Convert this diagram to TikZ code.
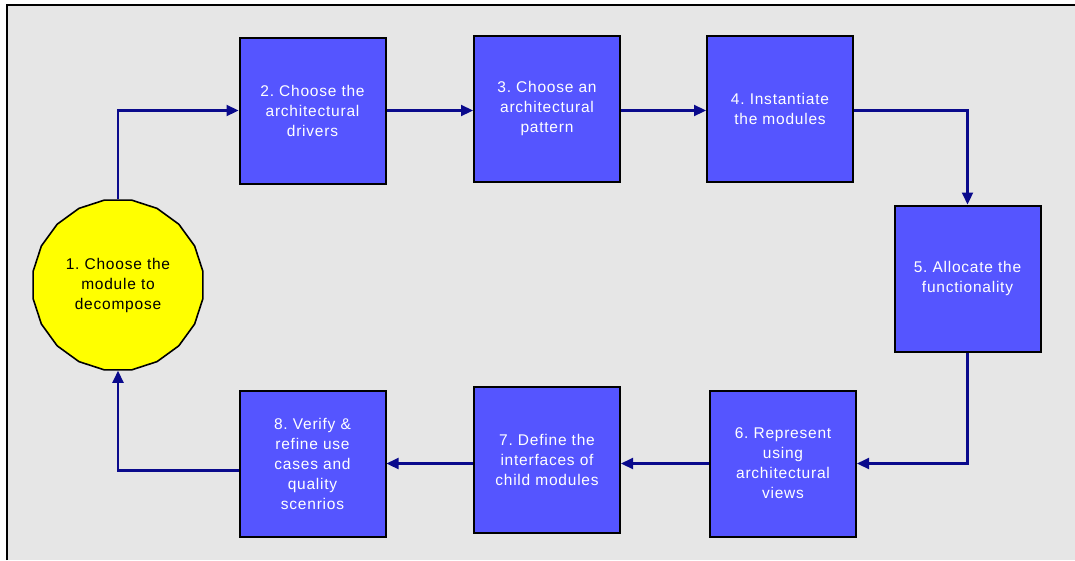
\documentclass[tikz,border=0pt]{standalone}
\usepackage{fontspec}
\setmainfont{Liberation Sans}[LetterSpace=5]
\usetikzlibrary{arrows.meta,shapes.geometric}
\definecolor{panelgray}{HTML}{E6E6E6}
\definecolor{stepblue}{HTML}{5555FF}
\definecolor{linknavy}{HTML}{0A0A8C}
\definecolor{startyellow}{HTML}{FFFF00}
\begin{document}
\begin{tikzpicture}[x=1pt,y=-1pt,
  stepbox/.style={draw=black, line width=2pt, fill=stepblue, text=white,
    minimum width=146pt, minimum height=146pt, align=center, inner sep=0pt,
    font=\fontsize{15.5}{20}\selectfont},
  startnode/.style={draw=black, line width=1.6pt, fill=startyellow, text=black,
    regular polygon, regular polygon sides=20, minimum size=172pt, inner sep=0pt,
    align=center, font=\fontsize{15.5}{20}\selectfont},
  link/.style={draw=linknavy, line width=2.2pt, -{Triangle[length=12pt,width=11pt]}}]
  % page and panel
  \useasboundingbox (0,0) rectangle (1075,560);
  \fill[white] (0,0) rectangle (1075,560);
  \fill[panelgray] (7,5) rectangle (1075,560);
  \draw[black, line width=2.2pt] (7,560) -- (7,5) -- (1075,5);
  % steps
  \node[startnode] (s1) at (118,285) {1.\ Choose the\\module to\\decompose};
  \node[stepbox] (s2) at (312.5,110.5) {2.\ Choose the\\architectural\\drivers};
  \node[stepbox] (s3) at (547,108.5) {3.\ Choose an\\architectural\\pattern};
  \node[stepbox] (s4) at (780,108.5) {4.\ Instantiate\\the  modules};
  \node[stepbox] (s5) at (967.5,278.5) {5.\ Allocate the\\functionality};
  \node[stepbox] (s6) at (783,463.5) {6.\ Represent\\using\\architectural\\views};
  \node[stepbox] (s7) at (547,460) {7.\ Define the\\interfaces  of\\child modules};
  \node[stepbox] (s8) at (312.5,463.5) {8.\ Verify \&\\refine  use\\cases  and\\quality\\scenrios};
  % connectors
  \draw[link] (s1.north) |- (s2.west);
  \draw[link] (s2.east) -- (s3.west |- s2.east);
  \draw[link] (s3.east |- s2.east) -- (s4.west |- s2.east);
  \draw[link] (s4.east |- s2.east) -| (s5.north);
  \draw[link] (s5.south) |- (s6.east);
  \draw[link] (s6.west) -- (s7.east |- s6.west);
  \draw[link] (s7.west |- s6.west) -- (s8.east |- s6.west);
  \draw[link] ([yshift=-7pt]s8.west) -| (s1.south);
\end{tikzpicture}
\end{document}
